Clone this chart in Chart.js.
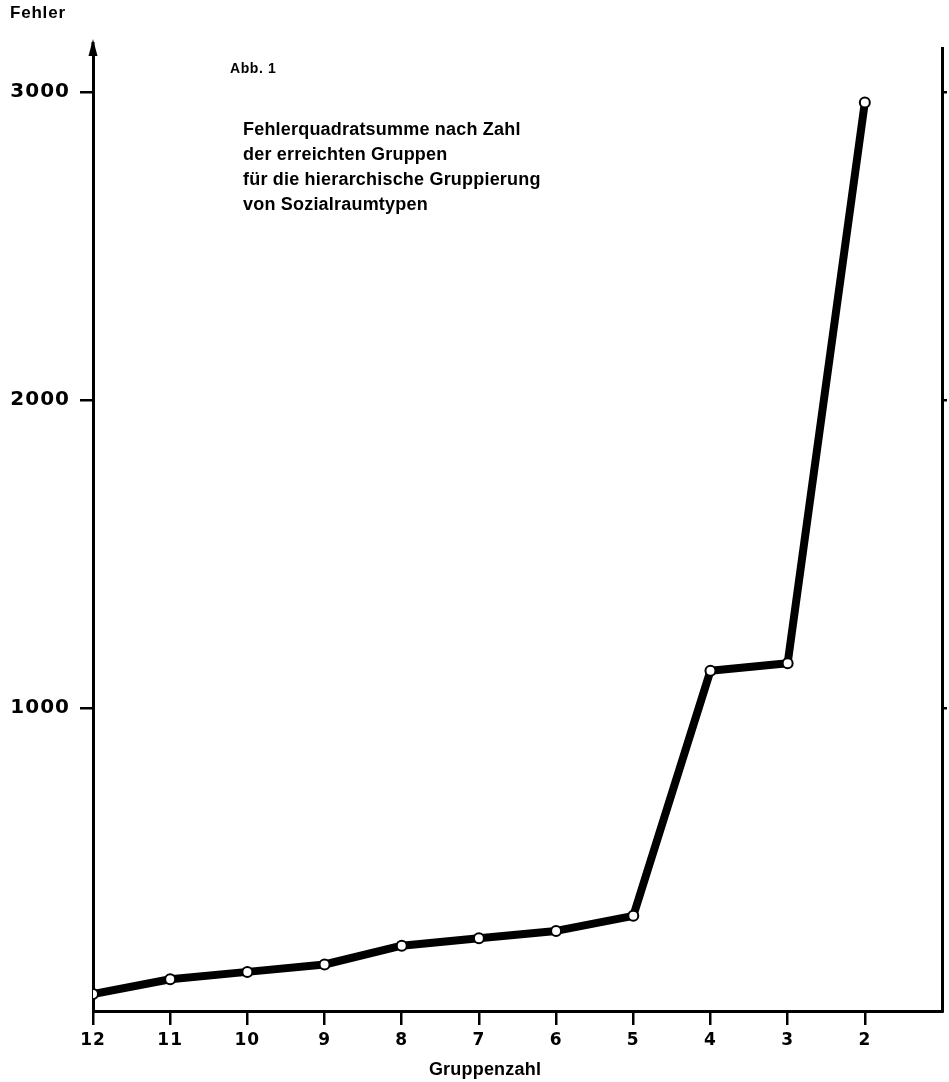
<!DOCTYPE html>
<html>
<head>
<meta charset="utf-8">
<script src="https://cdn.jsdelivr.net/npm/chart.js@4.4.0/dist/chart.umd.min.js"></script>
<style>
  html, body { margin: 0; padding: 0; background: #ffffff; }
  #wrap { width: 949px; height: 1082px; }
</style>
</head>
<body>
<div id="wrap"><canvas id="c" width="949" height="1082"></canvas></div>
<script>
// ---- data ----
const groups = [12, 11, 10, 9, 8, 7, 6, 5, 4, 3, 2];
const errors = [71, 119, 143, 167, 228, 252, 276, 325, 1121, 1145, 2966];
const xTickValues = [12, 11, 10, 9, 8, 7, 6, 5, 4, 3, 2];
const yTickValues = [1000, 2000, 3000];
const yAxisLabel = 'Fehler';
const xAxisLabel = 'Gruppenzahl';
const figureLabel = 'Abb. 1';
const titleLines = [
  'Fehlerquadratsumme nach Zahl',
  'der erreichten Gruppen',
  'für die hierarchische Gruppierung',
  'von Sozialraumtypen'
];

const FONT = '"Liberation Sans", Arial, Helvetica, sans-serif';
const NUMFONT = '"DejaVu Sans", "Liberation Sans", sans-serif';
const points = groups.map((g, i) => ({ x: g, y: errors[i] }));

const annotate = {
  id: 'annotate',
  beforeDraw(chart) { chart.ctx.letterSpacing = '1px'; },
  afterDraw(chart) {
    const ctx = chart.ctx;
    const area = chart.chartArea;
    ctx.save();
    ctx.fillStyle = '#000';
    ctx.strokeStyle = '#000';
    // arrow on the y axis
    ctx.lineWidth = 3;
    ctx.beginPath();
    ctx.moveTo(area.left, area.top + 2);
    ctx.lineTo(area.left, area.top - 6);
    ctx.stroke();
    ctx.beginPath();
    ctx.moveTo(area.left, area.top - 9);
    ctx.lineTo(area.left - 4.5, area.top + 8);
    ctx.lineTo(area.left + 4.5, area.top + 8);
    ctx.closePath();
    ctx.fill();

    ctx.textBaseline = 'middle';
    ctx.textAlign = 'left';
    ctx.letterSpacing = '0.8px';
    ctx.font = 'bold 17px ' + FONT;
    ctx.fillText(yAxisLabel, 10, 13);

    ctx.font = 'bold 14px ' + FONT;
    ctx.letterSpacing = '0.6px';
    ctx.fillText(figureLabel, 230, 69);

    ctx.font = 'bold 18px ' + FONT;
    ctx.letterSpacing = '0.2px';
    titleLines.forEach((t, i) => ctx.fillText(t, 243, 130 + i * 25));

    ctx.textAlign = 'center';
    ctx.font = 'bold 18px ' + FONT;
    ctx.letterSpacing = '0.2px';
    ctx.fillText(xAxisLabel, 485, 1070);
    ctx.restore();
  }
};

new Chart(document.getElementById('c'), {
  type: 'line',
  data: {
    datasets: [{
      data: points,
      borderColor: '#000',
      borderWidth: 8,
      borderJoinStyle: 'round',
      borderCapStyle: 'round',
      tension: 0,
      pointRadius: 5,
      pointBorderWidth: 2,
      pointBackgroundColor: '#fff',
      pointBorderColor: '#000',
      fill: false
    }]
  },
  options: {
    responsive: false,
    animation: false,
    layout: { padding: { left: 0, right: 0, top: 48, bottom: 0 } },
    plugins: { legend: { display: false }, tooltip: { enabled: false }, title: { display: false } },
    scales: {
      x: {
        type: 'linear',
        position: 'bottom',
        reverse: true,
        min: 1,
        max: 12,
        afterBuildTicks: s => { s.ticks = xTickValues.map(v => ({ value: v })); },
        afterFit: s => { s.height = 71; },
        grid: { drawOnChartArea: false, drawTicks: true, tickLength: 14, color: '#000', lineWidth: 2.5 },
        border: { display: true, color: '#000', width: 3 },
        ticks: { color: '#000', font: { family: NUMFONT, size: 17, weight: 'bold' }, padding: 5, maxRotation: 0, autoSkip: false }
      },
      y: {
        type: 'linear',
        position: 'left',
        min: 16,
        max: 3143,
        afterBuildTicks: s => { s.ticks = yTickValues.map(v => ({ value: v })); },
        afterFit: s => { s.width = 93; },
        grid: { drawOnChartArea: false, drawTicks: true, tickLength: 13, color: '#000', lineWidth: 2.5 },
        border: { display: true, color: '#000', width: 3 },
        ticks: { color: '#000', font: { family: NUMFONT, size: 20, weight: 'bold' }, padding: 10, callback: v => String(v) }
      },
      y2: {
        type: 'linear',
        position: 'right',
        min: 16,
        max: 3143,
        afterBuildTicks: s => { s.ticks = yTickValues.map(v => ({ value: v })); },
        afterFit: s => { s.width = 7; },
        grid: { drawOnChartArea: false, drawTicks: true, tickLength: 5, color: '#000', lineWidth: 2.5 },
        border: { display: true, color: '#000', width: 3 },
        ticks: { display: false }
      }
    }
  },
  plugins: [annotate]
});
</script>
</body>
</html>
